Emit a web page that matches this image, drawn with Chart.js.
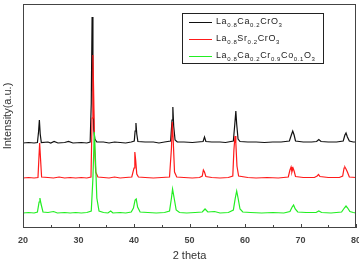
<!DOCTYPE html>
<html>
<head>
<meta charset="utf-8">
<script src="https://cdn.jsdelivr.net/npm/chart.js@4/dist/chart.umd.min.js"></script>
<style>
  html, body { margin: 0; padding: 0; background: #fff; }
  #wrap { width: 359px; height: 259px; }
</style>
</head>
<body>
<div id="wrap"><canvas id="xrd"></canvas></div>
<script>
// 2 theta ticks
const xTicks = [20, 30, 40, 50, 60, 70, 80];

// legend labels (_{..} = subscript)
const legendLabels = [
  'La_{0.8}Ca_{0.2}CrO_{3}',
  'La_{0.8}Sr_{0.2}CrO_{3}',
  'La_{0.8}Ca_{0.2}Cr_{0.9}Co_{0.1}O_{3}',
];
const seriesColors = ['#111111', '#ff1a1a', '#22ee22'];

// [2theta, intensity] pairs, stacked patterns (offsets included)
const laCaCrO3 = [
  [20, 85], [21, 85.5], [22, 85], [22.6, 85.5], [22.8, 96], [22.95, 108], [23.1, 94], [23.3, 85.5],
  [24.5, 86], [25, 85], [25.6, 86.5], [26.3, 85], [27.5, 85.5], [28.2, 86.5], [29, 85], [30.5, 85.5],
  [31.5, 85], [32.1, 86], [32.3, 125], [32.45, 211], [32.6, 150], [32.75, 98], [32.95, 89], [33.3, 86],
  [34.5, 86], [35.5, 85], [36.5, 86], [37.5, 85.5], [38.5, 85], [39.5, 86], [40.05, 87], [40.2, 97],
  [40.35, 105], [40.5, 94], [40.7, 86.5], [42, 86], [43.5, 86], [44.5, 85], [45.5, 86], [46.6, 87],
  [46.85, 108], [47.0, 121], [47.15, 102], [47.4, 88], [47.8, 86], [49, 86], [50.5, 85.5], [51.5, 86],
  [52.45, 86.5], [52.7, 91], [52.95, 86.5], [54, 86], [55.5, 86], [56.5, 85.5], [57.9, 87], [58.15, 103],
  [58.35, 117], [58.5, 104], [58.75, 89], [59.1, 86.5], [60.5, 86], [62, 86], [63.5, 85.5], [65, 86],
  [66.5, 86], [68.0, 87], [68.35, 93], [68.6, 97], [68.85, 93], [69.1, 87], [70.5, 86], [72, 86],
  [72.9, 86.5], [73.3, 88.5], [73.7, 86.5], [75, 86], [76.5, 86], [77.7, 87], [78.0, 93], [78.2, 95],
  [78.45, 91], [78.8, 87], [79.5, 86], [80, 86],
];
const laSrCrO3 = [
  [20, 50], [21, 50.5], [22, 50], [22.7, 50.5], [22.85, 68], [23.0, 85], [23.15, 70], [23.35, 51],
  [24.5, 50.5], [25.5, 50], [26.5, 51], [27.5, 50], [28.5, 50.5], [29.5, 50], [30.5, 50.5], [31.5, 50],
  [32.25, 51], [32.45, 110], [32.6, 173], [32.75, 130], [32.9, 80], [33.1, 56], [33.5, 51], [34.5, 50.5],
  [35.5, 50], [36.5, 51], [37.5, 50], [38.5, 50.5], [39.6, 51], [40.0, 60], [40.15, 76], [40.3, 68],
  [40.5, 54], [40.8, 51], [42, 50.5], [43.5, 50], [45, 50.5], [46.4, 51], [46.75, 80], [46.9, 106],
  [47.05, 90], [47.3, 56], [47.7, 51], [49, 50.5], [50.5, 50], [51.8, 50.5], [52.3, 52], [52.5, 58],
  [52.7, 56], [52.95, 51.5], [54, 50.5], [55.5, 50], [57, 50.5], [57.8, 52], [58.0, 78], [58.2, 92],
  [58.35, 85], [58.55, 62], [58.85, 52], [60.5, 50.5], [62, 50], [64, 50.5], [66, 50], [67.8, 51],
  [68.1, 58], [68.3, 61], [68.45, 56], [68.65, 60], [68.85, 57], [69.1, 51.5], [70.5, 50.5], [72.5, 50.5],
  [73.0, 52], [73.25, 53.5], [73.5, 51.5], [75, 50.5], [77, 50.5], [77.6, 52], [77.85, 60], [78.0, 61],
  [78.2, 59], [78.45, 56], [78.8, 51], [80, 50.5],
];
const laCaCrCoO3 = [
  [20, 15], [21, 15.5], [22, 15], [22.6, 16], [22.9, 26], [23.05, 30], [23.25, 24], [23.6, 16],
  [24.5, 15.5], [25.5, 16.5], [26.2, 15], [27.5, 15.5], [28.5, 15], [29.5, 15.5], [30.5, 15], [31.5, 15.5],
  [32.3, 17], [32.6, 50], [32.85, 96], [33.05, 70], [33.3, 30], [33.7, 17], [34.5, 15.5], [35.3, 15],
  [35.8, 17], [36.2, 15], [37.5, 15.5], [38.5, 15], [39.5, 16], [39.9, 20], [40.2, 28], [40.4, 29],
  [40.65, 21], [41.1, 16], [42.5, 15.5], [44, 15], [45.5, 15.5], [46.4, 17], [46.75, 30], [46.95, 39],
  [47.2, 31], [47.6, 18], [48.2, 15.5], [49.5, 15], [51, 15.5], [52.3, 16], [52.8, 19], [53.3, 16],
  [54.5, 16.5], [55.5, 15], [57, 15.5], [57.9, 18], [58.25, 30], [58.5, 37], [58.75, 30], [59.1, 19],
  [59.6, 16], [61, 15.5], [63, 15], [65, 15.5], [67, 15], [68.1, 16.5], [68.5, 21], [68.75, 23],
  [69.05, 19], [69.5, 16], [71, 15.5], [72.8, 15.5], [73.3, 17], [73.8, 15.5], [75.5, 15], [77.4, 16],
  [77.9, 20], [78.2, 22], [78.5, 20], [78.9, 16.5], [79.5, 15.5], [80, 15],
];

const FONT = '"Liberation Sans", Arial, sans-serif';

// draws text with _{...} subscripts
const drawFormula = function (ctx, text, x, y) {
  const parts = text.split(/(_\{[^}]*\})/).filter((p) => p.length);
  ctx.textBaseline = 'middle';
  ctx.textAlign = 'left';
  ctx.letterSpacing = '0.6px';
  parts.forEach((p) => {
    if (p.startsWith('_{')) {
      const s = p.slice(2, -1);
      ctx.font = `6px ${FONT}`;
      ctx.fillText(s, x, y + 3.5);
      x += ctx.measureText(s).width;
    } else {
      ctx.font = `9px ${FONT}`;
      ctx.fillText(p, x, y);
      x += ctx.measureText(p).width;
    }
  });
  ctx.letterSpacing = '0px';
};

const frameAndTicks = {
  id: 'frameAndTicks',
  afterDatasetsDraw(chart) {
    const { ctx, chartArea: a, scales } = chart;
    ctx.save();
    ctx.strokeStyle = '#444';
    ctx.lineWidth = 1;
    ctx.strokeRect(a.left + 0.5, a.top + 0.5, a.right - a.left - 1, a.bottom - a.top - 1);
    // inward ticks
    ctx.beginPath();
    for (let v = 20; v <= 80; v += 5) {
      const x = Math.round(scales.x.getPixelForValue(v)) + 0.5;
      ctx.moveTo(x, a.bottom);
      ctx.lineTo(x, a.bottom - (v % 10 === 0 ? 4 : 3));
    }
    ctx.stroke();
    ctx.restore();
  },
};

const formulaLegend = {
  id: 'formulaLegend',
  afterDraw(chart) {
    const ctx = chart.ctx;
    ctx.save();
    ctx.fillStyle = '#fff';
    ctx.fillRect(183, 14, 140, 49);
    ctx.strokeStyle = '#222';
    ctx.lineWidth = 1;
    ctx.strokeRect(182.5, 13.5, 141, 50);
    chart.data.datasets.forEach((ds, i) => {
      const y = 22 + i * 17;
      ctx.strokeStyle = ds.borderColor;
      ctx.beginPath();
      ctx.moveTo(189, y + 0.5);
      ctx.lineTo(212, y + 0.5);
      ctx.stroke();
      ctx.fillStyle = '#222';
      drawFormula(ctx, legendLabels[i], 216, y);
    });
    ctx.restore();
  },
};

const series = [laCaCrO3, laSrCrO3, laCaCrCoO3];

const chart = new Chart(document.getElementById('xrd'), {
  type: 'line',
  data: {
    datasets: series.map((s, i) => ({
      label: legendLabels[i].replace(/_\{([^}]*)\}/g, '$1'),
      data: s.map(([x, y]) => ({ x, y })),
      borderColor: seriesColors[i],
      borderWidth: 1.2,
      pointRadius: 0,
      tension: 0,
      fill: false,
      // later series drawn on top
      order: series.length - i,
    })),
  },
  options: {
    responsive: true,
    maintainAspectRatio: false,
    animation: false,
    layout: { padding: { top: 4, right: 3, left: 0, bottom: 0 } },
    plugins: {
      legend: { display: false },
      tooltip: { enabled: false },
    },
    scales: {
      x: {
        type: 'linear',
        min: 20,
        max: 80,
        afterBuildTicks: (s) => {
          s.ticks = xTicks.map((v) => ({ value: v }));
        },
        afterFit: (s) => {
          s.height = 31;
          s.paddingLeft = 0;
          s.paddingRight = 0;
        },
        grid: { display: false, drawTicks: false },
        border: { display: false },
        ticks: {
          padding: 7,
          color: '#444',
          font: { family: FONT, size: 9, weight: 'bold' },
          maxRotation: 0,
        },
        title: {
          display: true,
          text: '2 theta',
          color: '#333',
          font: { family: FONT, size: 11 },
          padding: { top: 0, bottom: -4 },
        },
      },
      y: {
        min: 0,
        max: 224,
        afterFit: (s) => {
          s.width = 23;
        },
        grid: { display: false, drawTicks: false },
        border: { display: false },
        ticks: { display: false },
        title: {
          display: true,
          text: 'Intensity(a.u.)',
          color: '#333',
          font: { family: FONT, size: 11 },
          padding: { top: 1, bottom: 0 },
        },
      },
    },
  },
  plugins: [frameAndTicks, formulaLegend],
});
</script>
</body>
</html>
